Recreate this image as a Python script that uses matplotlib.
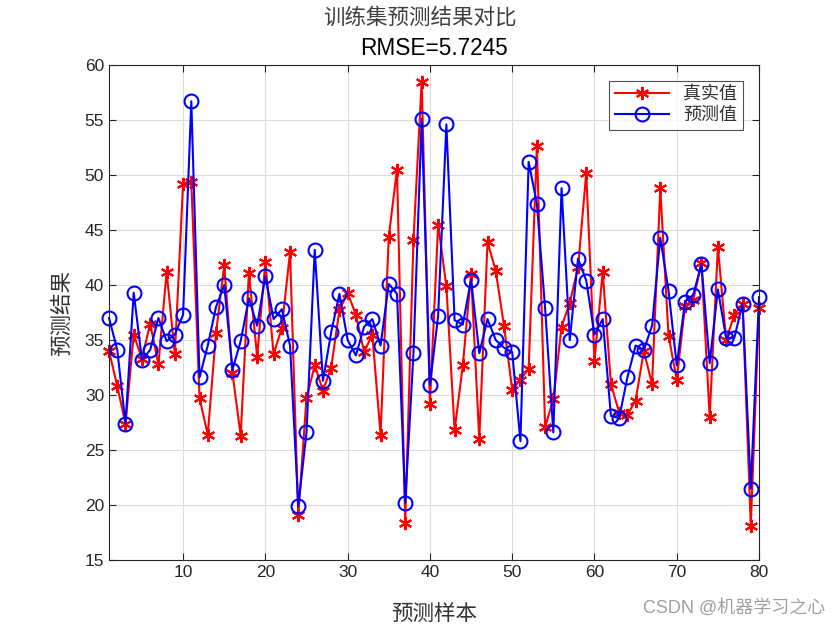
import numpy as np
import matplotlib
matplotlib.use('Agg')
import matplotlib.pyplot as plt

plt.rcParams['font.family'] = ['Liberation Sans', 'Noto Sans CJK SC']

# 真实值
y_true = [34.0, 30.8, 27.4, 35.5, 33.3, 36.5, 32.8, 41.2, 33.7, 49.2,
          49.4, 29.7, 26.4, 35.6, 41.8, 32.0, 26.3, 41.1, 33.5, 42.1,
          33.7, 36.1, 43.0, 19.1, 29.7, 32.7, 30.4, 32.5, 37.7, 39.3,
          37.3, 33.9, 35.5, 26.4, 44.4, 50.5, 18.4, 44.1, 58.5, 29.2,
          45.5, 39.9, 26.8, 32.7, 41.0, 26.0, 43.9, 41.3, 36.3, 30.5,
          31.4, 32.4, 52.6, 27.1, 29.6, 36.2, 38.4, 41.6, 50.2, 33.1,
          41.2, 31.0, 28.4, 28.2, 29.5, 34.0, 31.0, 48.8, 35.4, 31.4,
          38.1, 38.6, 42.0, 28.0, 43.5, 35.0, 37.3, 38.3, 18.1, 37.9]

# 预测值
y_pred = [37.0, 34.1, 27.4, 39.3, 33.2, 34.1, 37.0, 34.9, 35.5, 37.3,
          56.7, 31.6, 34.5, 38.0, 40.0, 32.3, 34.9, 38.8, 36.3, 40.8,
          36.9, 37.8, 34.5, 19.9, 26.6, 43.2, 31.3, 35.7, 39.2, 35.0,
          33.6, 36.2, 36.9, 34.5, 40.1, 39.2, 20.2, 33.8, 55.1, 30.9,
          37.2, 54.6, 36.8, 36.4, 40.5, 33.8, 36.9, 35.0, 34.3, 33.9,
          25.8, 51.2, 47.4, 37.9, 26.6, 48.8, 35.0, 42.4, 40.4, 35.5,
          36.9, 28.1, 27.9, 31.6, 34.5, 34.1, 36.3, 44.3, 39.5, 32.7,
          38.5, 39.1, 41.9, 32.9, 39.6, 35.2, 35.2, 38.3, 21.5, 38.9]

rmse = 5.7245
samples = np.arange(1, len(y_true) + 1)

fig = plt.figure(figsize=(8.4, 6.3), dpi=100, facecolor='white')
ax = fig.add_axes([0.1298, 0.1111, 0.7738, 0.7857])

asterisk = (6, 2, 0)
ax.plot(samples, y_true, color='#ff0000', lw=1.5, marker=asterisk,
        markersize=9.5, markeredgewidth=1.5, label='真实值', clip_on=False)
ax.plot(samples, y_pred, color='#0000ff', lw=1.5, marker='o',
        markersize=10, markerfacecolor='none', markeredgewidth=1.5,
        label='预测值', clip_on=False)

ax.set_xlim(1, 80)
ax.set_ylim(15, 60)
ax.set_xticks(np.arange(10, 81, 10))
ax.set_yticks(np.arange(15, 61, 5))
ax.tick_params(direction='in', length=5, width=0.8, labelsize=12.5,
               top=True, right=True, colors='#262626')
ax.grid(True, color='#dcdcdc', lw=0.8)
ax.set_axisbelow(True)
for sp in ax.spines.values():
    sp.set_color('#262626')
    sp.set_linewidth(0.8)

ax.set_xlabel('预测样本', fontsize=15.5, color='#333333', labelpad=17)
ax.set_ylabel('预测结果', fontsize=15.5, color='#333333', labelpad=8)

fig.text(0.5, 0.972, '训练集预测结果对比', ha='center', va='center',
         fontsize=15.5, color='#404040')
ax.set_title(f'RMSE={rmse}', fontsize=16.3, color='#000000', pad=7)

leg = ax.legend(loc='upper right', fontsize=13, frameon=True, fancybox=False,
                edgecolor='#262626', borderpad=0.3, handlelength=3,
                labelspacing=0.2, borderaxespad=0.9)
leg.get_frame().set_linewidth(0.8)
for t in leg.get_texts():
    t.set_color('#333333')

fig.text(0.982, 0.035, 'CSDN @机器学习之心', ha='right', va='center',
         fontsize=13, color='#a0a0a0')

fig.savefig('out.png', dpi=100, facecolor='white')
